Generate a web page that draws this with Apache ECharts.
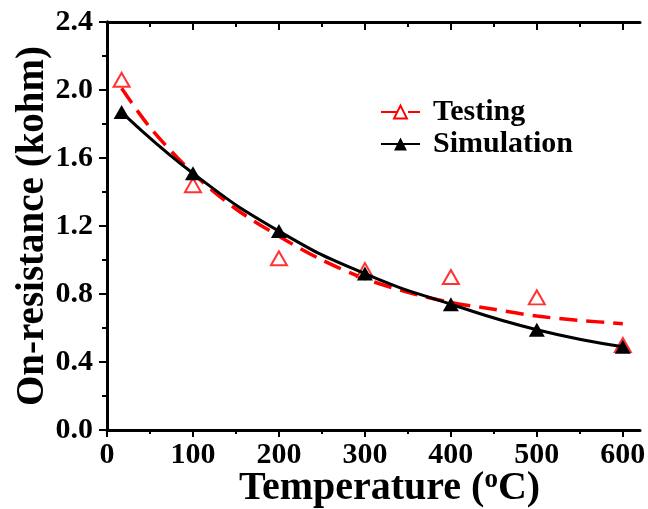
<!DOCTYPE html>
<html>
<head>
<meta charset="utf-8">
<script src="https://cdn.jsdelivr.net/npm/echarts@6/dist/echarts.min.js"></script>
<style>
html,body{margin:0;padding:0;background:#fff;}
#chart{width:648px;height:509px;}
</style>
</head>
<body>
<div id="chart"></div>
<script>
// measured points
var tempX = [17, 100, 200, 300, 400, 500, 600];
var testingY = [2.06, 1.44, 1.01, 0.94, 0.90, 0.78, 0.50];
var simulationY = [1.87, 1.51, 1.17, 0.92, 0.74, 0.59, 0.49];

// dashed fit curve
var fitX = [17, 50, 100, 150, 200, 250, 300, 350, 400, 450, 500, 550, 600];
var fitY = [2.01, 1.78, 1.51, 1.30, 1.14, 1.00, 0.89, 0.81, 0.75, 0.71, 0.67, 0.645, 0.625];

var majorTicksX = [0, 100, 200, 300, 400, 500, 600];
var minorTicksX = [50, 150, 250, 350, 450, 550];

var FONT = "'Liberation Serif','Times New Roman',serif";
var RED = '#ff0000';

function pairs(xs, ys){
	return xs.map(function(x, i){ return [x, ys[i]]; });
}

function tickAxis(position, values, len, inside, showLine){
	return {
		type:'value',
		position:position,
		min:0,
		max:620,
		axisLine:{show:showLine, lineStyle:{color:'#000', width:3}},
		axisTick:{show:true, inside:inside, length:len, customValues:values, lineStyle:{color:'#000', width:2}},
		axisLabel:{show:false},
		splitLine:{show:false}
	};
}

var myChart = echarts.init(document.getElementById('chart'));

var bottomAxis = tickAxis('bottom', majorTicksX, 7, false, true);
bottomAxis.axisLabel = {
	show:true,
	customValues:majorTicksX,
	margin:10,
	color:'#000',
	fontFamily:FONT,
	fontWeight:'bold',
	fontSize:30
};
bottomAxis.name = 'Temperature ({sup|o}C)';
bottomAxis.nameLocation = 'middle';
bottomAxis.nameMoveOverlap = false;
bottomAxis.nameGap = 37;
bottomAxis.nameTextStyle = {
	color:'#000',
	fontFamily:FONT,
	fontWeight:'bold',
	fontSize:40,
	padding:[0,0,0,32],
	rich:{
		sup:{fontFamily:FONT, fontWeight:'bold', fontSize:27, color:'#000', verticalAlign:'top', padding:[0,0,16,0]}
	}
};

myChart.setOption({
	backgroundColor:'#fff',
	animation:false,
	grid:{left:107, right:8, top:22, bottom:79, outerBoundsMode:'none', containLabel:false},
	legend:{
		orient:'vertical',
		left:375,
		top:92,
		itemWidth:39,
		itemHeight:16,
		itemGap:2,
		data:['Testing', 'Simulation'],
		textStyle:{
			color:'#000',
			fontFamily:FONT,
			fontWeight:'bold',
			fontSize:30,
			lineHeight:30,
			padding:[0,0,0,8]
		}
	},
	xAxis:[
		bottomAxis,
		tickAxis('bottom', minorTicksX, 4, false, false),
		tickAxis('top', majorTicksX, 8, true, true),
		tickAxis('top', minorTicksX, 5, true, false)
	],
	yAxis:[
		{
			type:'value',
			position:'left',
			min:0,
			max:2.4,
			interval:0.4,
			name:'On-resistance (kohm)',
			nameLocation:'middle',
			nameMoveOverlap:false,
			nameGap:55,
			nameTextStyle:{color:'#000', fontFamily:FONT, fontWeight:'bold', fontSize:39},
			axisLine:{show:true, lineStyle:{color:'#000', width:3}},
			axisTick:{show:true, inside:false, length:8, lineStyle:{color:'#000', width:2}},
			minorTick:{show:true, splitNumber:2, length:5, lineStyle:{color:'#000', width:2}},
			axisLabel:{
				margin:14,
				color:'#000',
				fontFamily:FONT,
				fontWeight:'bold',
				fontSize:30,
				formatter:function(v){ return v.toFixed(1); }
			},
			splitLine:{show:false}
		},
		{
			type:'value',
			position:'right',
			min:0,
			max:2.4,
			interval:0.4,
			axisLine:{show:true, lineStyle:{color:'#000', width:3}},
			axisTick:{show:true, inside:true, length:5, lineStyle:{color:'#000', width:2}},
			minorTick:{show:true, splitNumber:2, length:5, lineStyle:{color:'#000', width:2}},
			axisLabel:{show:false},
			splitLine:{show:false}
		}
	],
	series:[
		{
			name:'Testing',
			type:'line',
			smooth:0.3,
			data:pairs(fitX, fitY),
			showSymbol:false,
			symbol:'emptyTriangle',
			symbolSize:[16,14],
			itemStyle:{color:RED, borderColor:RED, borderWidth:2},
			lineStyle:{color:RED, width:3.5, type:[18,9]},
			z:2
		},
		{
			name:'Testing',
			type:'scatter',
			data:pairs(tempX, testingY),
			symbol:'emptyTriangle',
			symbolSize:[16,14],
			itemStyle:{color:RED, borderColor:RED, borderWidth:2.5},
			z:3
		},
		{
			name:'Simulation',
			type:'line',
			smooth:true,
			data:pairs(tempX, simulationY),
			symbol:'triangle',
			symbolSize:[16,14],
			itemStyle:{color:'#000'},
			lineStyle:{color:'#000', width:3},
			z:4
		}
	]
});
</script>
</body>
</html>
